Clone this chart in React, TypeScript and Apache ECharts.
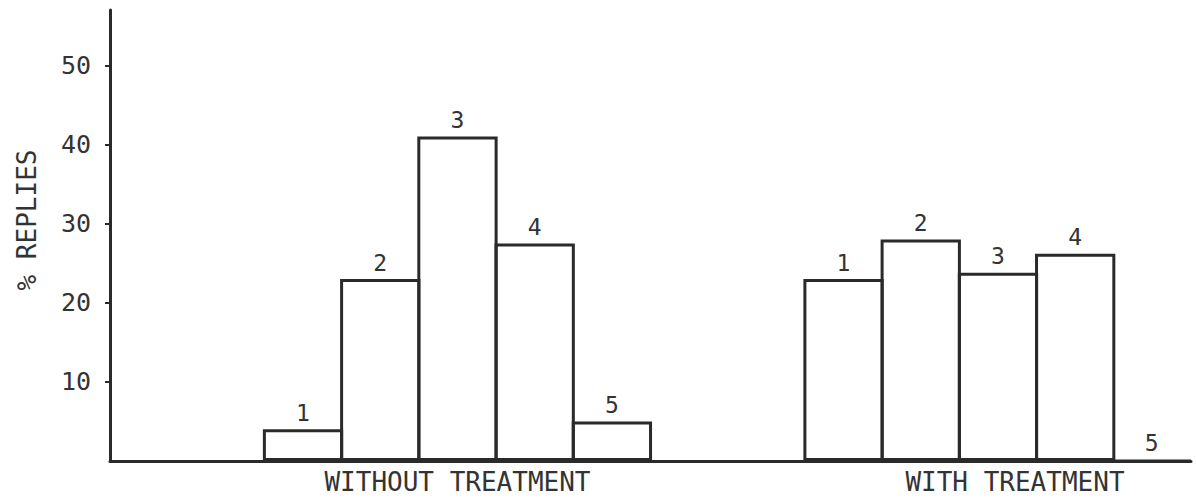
import React, { useEffect, useRef } from "react";
import * as echarts from "echarts";

const slotCount = 14;
const withoutStart = 2;
const withStart = 9;
const withoutTreatment = [4, 23, 41, 27.5, 5];
const withTreatment = [23, 28, 23.8, 26.2, 0];
const barNumbers = ["1", "2", "3", "4", "5"];
const groupLabels = ["WITHOUT TREATMENT", "WITH TREATMENT"];
const groupLabelSlots = [4, 11];
const yTicks = [10, 20, 30, 40, 50];
const yTitle = "% REPLIES";

const FONT = "DejaVu Sans Mono";
const INK = "#2a2a2a";
const TXT = "#333";

export default function App() {
  const ref = useRef<HTMLDivElement>(null);
  useEffect(() => {
    if (!ref.current) return;
    const chart = echarts.init(ref.current, undefined, { renderer: "svg" });
    const categories = Array.from({ length: slotCount }, (_, i) => "S" + i);
    const values: (number | null)[] = Array.from({ length: slotCount }, () => null);
    const labels: string[] = Array.from({ length: slotCount }, () => "");
    withoutTreatment.forEach((v, i) => {
      values[withoutStart + i] = v;
      labels[withoutStart + i] = barNumbers[i];
    });
    withTreatment.forEach((v, i) => {
      values[withStart + i] = v;
      labels[withStart + i] = barNumbers[i];
    });
    chart.setOption({
      animation: false,
      backgroundColor: "#fff",
      grid: { left: 110, right: 5, top: 10, bottom: 41, containLabel: false },
      xAxis: {
        type: "category",
        data: categories,
        boundaryGap: true,
        axisLine: { show: true, lineStyle: { color: INK, width: 3 } },
        axisTick: { show: false },
        axisLabel: {
          interval: 0,
          margin: 8,
          color: TXT,
          fontFamily: FONT,
          fontSize: 26,
          formatter: (_v: string, idx: number) => {
            if (idx === groupLabelSlots[0]) return groupLabels[0];
            if (idx === groupLabelSlots[1]) return "{r|" + groupLabels[1] + "}";
            return "";
          },
          rich: {
            r: { fontFamily: FONT, fontSize: 26, color: TXT, padding: [0, 0, 0, 34] },
          },
        },
        splitLine: { show: false },
      },
      yAxis: {
        type: "value",
        min: 0,
        max: 57,
        axisLine: { show: true, lineStyle: { color: INK, width: 3 } },
        axisTick: { show: true, length: 5, customValues: yTicks, lineStyle: { color: INK, width: 2 } },
        axisLabel: {
          customValues: yTicks,
          color: TXT,
          fontFamily: FONT,
          fontSize: 25,
          margin: 19,
        },
        splitLine: { show: false },
      },
      graphic: [
        {
          type: "text",
          x: 27,
          y: 220,
          rotation: Math.PI / 2,
          style: {
            text: yTitle,
            fontFamily: FONT,
            fontSize: 26,
            fill: TXT,
            align: "center",
            verticalAlign: "middle",
          },
        },
      ],
      series: [
        {
          type: "bar",
          data: values,
          barWidth: "104%",
          itemStyle: { color: "rgba(255,255,255,0)", borderColor: INK, borderWidth: 3 },
          label: {
            show: true,
            position: "top",
            distance: 5,
            color: TXT,
            fontFamily: FONT,
            fontSize: 23,
            formatter: (p: any) => labels[p.dataIndex],
          },
        },
      ],
    });
    return () => chart.dispose();
  }, []);
  return (
    <div
      ref={ref}
      style={{ position: "absolute", left: 0, top: 0, width: 1196, height: 502, background: "#fff" }}
    />
  );
}
